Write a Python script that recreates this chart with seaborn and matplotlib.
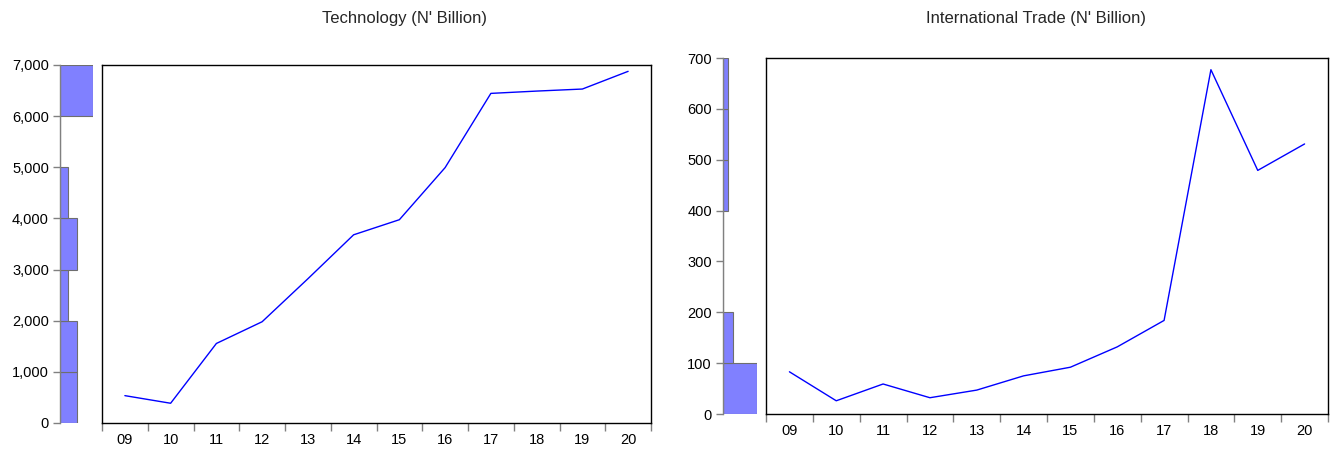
import numpy as np
import pandas as pd
import matplotlib
matplotlib.use("Agg")
import matplotlib.pyplot as plt
import seaborn as sns
from matplotlib.ticker import FuncFormatter, FixedLocator, NullFormatter

sns.set_theme(style="white")
plt.rcParams['font.family'] = ['Liberation Sans', 'DejaVu Sans']

years = ["09", "10", "11", "12", "13", "14", "15", "16", "17", "18", "19", "20"]
technology = [535, 386, 1555, 1980, 2820, 3680, 3975, 4994, 6445, 6490, 6530, 6876]
trade = [83, 26, 59, 32, 47, 75, 92, 132, 184, 677, 479, 531]

title_left = "Technology (N' Billion)"
title_right = "International Trade (N' Billion)"

W, H = 1336, 451
fig = plt.figure(figsize=(W / 100, H / 100), dpi=100)

HIST_COLOR = "#8080FF"
EDGE = "#6E6E6E"
LINE = "#0000FF"
FS = 10.5


def fx(px):
    return px / W


def fy(py):
    return 1 - py / H


def panel(values, hist_x, hist_w, line_x, line_w, top, bottom, ymax, step, fmt, maxcount):
    df = pd.DataFrame({"year": years, "value": values})
    ax_h = fig.add_axes([fx(hist_x), fy(bottom), fx(hist_w), fy(top) - fy(bottom)])
    ax_l = fig.add_axes([fx(line_x), fy(bottom), fx(line_w), fy(top) - fy(bottom)])

    # histogram on the border
    sns.histplot(data=df, y="value", bins=np.arange(0, ymax + step, step), ax=ax_h,
                 color=HIST_COLOR, edgecolor=EDGE, linewidth=0.8, alpha=1)
    ax_h.set_ylim(0, ymax)
    ax_h.set_xlim(0, maxcount)
    ax_h.set_xlabel("")
    ax_h.set_ylabel("")
    ax_h.set_xticks([])
    for s in ["top", "right", "bottom"]:
        ax_h.spines[s].set_visible(False)
    ax_h.spines["left"].set_color("#808080")
    ax_h.spines["left"].set_linewidth(1.0)
    ax_h.set_yticks(np.arange(0, ymax + 1, step))
    ax_h.yaxis.set_major_formatter(FuncFormatter(fmt))
    ax_h.tick_params(axis="y", left=True, direction="out", length=5, width=1,
                     color="#808080", labelsize=FS, labelcolor="black", pad=3)
    ax_h.patch.set_alpha(0)

    # line chart
    sns.lineplot(data=df, x="year", y="value", ax=ax_l, color=LINE, linewidth=1.0,
                 sort=False)
    ax_l.set_ylim(0, ymax)
    ax_l.set_xlim(-0.5, len(years) - 0.5)
    ax_l.set_xlabel("")
    ax_l.set_ylabel("")
    ax_l.set_yticks([])
    ax_l.xaxis.set_major_locator(FixedLocator(np.arange(-0.5, len(years), 1.0)))
    ax_l.xaxis.set_major_formatter(NullFormatter())
    ax_l.xaxis.set_minor_locator(FixedLocator(np.arange(0, len(years))))
    ax_l.set_xticklabels(years, minor=True)
    ax_l.tick_params(axis="x", which="major", bottom=True, direction="out", length=6,
                     width=1, color="#808080")
    ax_l.tick_params(axis="x", which="minor", bottom=True, length=0, labelsize=FS,
                     labelcolor="black", pad=7)
    for s in ax_l.spines.values():
        s.set_visible(True)
        s.set_color("black")
        s.set_linewidth(1.0)
    return ax_h, ax_l


panel(technology, 60, 33, 102, 549, 65, 423, 7000, 1000,
      lambda v, p: f"{v:,.0f}", 4)
panel(trade, 723, 34, 766, 562, 58, 414, 700, 100,
      lambda v, p: f"{v:,.0f}", 7)

fig.text(fx(405), fy(18), title_left, ha="center", va="center", fontsize=12)
fig.text(fx(1036), fy(19), title_right, ha="center", va="center", fontsize=12)

fig.savefig("out.png", dpi=100)
